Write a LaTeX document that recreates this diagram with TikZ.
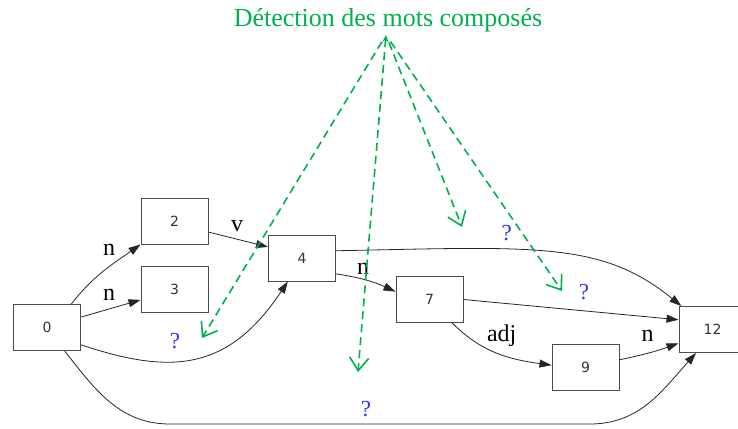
\documentclass[tikz,border=0pt]{standalone}
\usepackage{fontspec}
\setmainfont{Liberation Serif}
\newfontfamily\etatfont{DejaVu Sans}
\usetikzlibrary{arrows.meta,positioning}
\definecolor{vertcomp}{RGB}{0,176,80}
\definecolor{bleuq}{RGB}{51,51,255}

\begin{document}
\begin{tikzpicture}[
    x=1pt,y=1pt,
    etat/.style={draw=black!70,line width=1pt,minimum width=67pt,minimum height=46pt,
                 inner sep=0pt,text=black!80,font=\etatfont\fontsize{14}{14}\selectfont},
    arc/.style={draw=black!85,line width=0.8pt,-{Triangle[length=12pt,width=8pt]}},
    etiq/.style={inner sep=0pt,anchor=base,font=\fontsize{24}{24}\selectfont},
    inconnu/.style={inner sep=0pt,anchor=base,text=bleuq,font=\fontsize{23}{23}\selectfont},
    renvoi/.style={draw=vertcomp,line width=1.6pt,dash pattern=on 8pt off 5pt,
                   -{Straight Barb[length=13pt,width=19pt]}}]

  \useasboundingbox (0,0) rectangle (738,-428);

  % ---- etats -----------------------------------------------------------
  \node[etat] (n0)  at ( 47.0,-327.5) {0};
  \node[etat] (n2)  at (174.5,-221.0) {2};
  \node[etat] (n3)  at (174.5,-289.5) {3};
  \node[etat] (n4)  at (302.0,-258.0) {4};
  \node[etat] (n7)  at (429.5,-299.5) {7};
  \node[etat] (n9)  at (585.5,-367.0) {9};
  \node[etat] (n12) at (712.5,-329.5) {12};   % coupe par le bord droit

  % ---- transitions -----------------------------------------------------
  \draw[arc] (n0.44) to[out=52,in=215] (n2.south west);
  \draw[arc] (n0.17) -- (n3.197);
  \draw[arc] (n2.-18) -- (n4.162);
  \draw[arc] (n0.-27) .. controls +(90,-30) and +(-60,-90) .. (n4.239);
  \draw[arc] (n0.-53) to[out=-52,in=180] (170,-424) -- (590,-424)
                      to[out=0,in=228] (n12.235);
  \draw[arc] (n4.12) .. controls +(200,4) and +(-80,65) .. (n12.143);
  \draw[arc] (n4.-25) to[bend left=8] (n7.167);
  \draw[arc] (n7.east) -- (n12.164);
  \draw[arc] (n7.-46) to[out=-45,in=172] (n9.177);
  \draw[arc] (n9.12) to[bend right=4] (n12.202);

  % ---- etiquettes des transitions --------------------------------------
  \node[etiq] (l02)  at (109.0,-255.7) {n};
  \node[etiq] (l03)  at (109.0,-300.7) {n};
  \node[etiq] (l24)  at (237.0,-231.7) {v};
  \node[etiq] (l47)  at (363.0,-274.0) {n};
  \node[etiq] (l79)  at (501.7,-341.7) {adj};
  \node[etiq] (l912) at (647.5,-341.7) {n};

  % ---- mots composes non detectes --------------------------------------
  \node[inconnu] (q1) at (175.0,-348.0) {?};
  \node[inconnu] (q2) at (366.0,-416.7) {?};
  \node[inconnu] (q3) at (506.7,-240.0) {?};
  \node[inconnu] (q4) at (584.0,-299.0) {?};

  % ---- titre et renvois ------------------------------------------------
  \node[inner sep=0pt,anchor=base,text=vertcomp,font=\fontsize{26}{26}\selectfont]
    (titre) at (388,-27) {Détection des mots composés};
  \coordinate (src) at (386,-35);

  \coordinate (c1) at (202,-338);
  \coordinate (c2) at (358,-372);
  \coordinate (c3) at (462,-227);
  \coordinate (c4) at (562,-291);

  \draw[renvoi,shorten <=8pt] (src) -- (c1);
  \draw[renvoi,{Stealth[length=7pt,width=6pt]}-{Straight Barb[length=13pt,width=19pt]}]
    (src) -- (c2);
  \draw[renvoi,shorten <=8pt] (src) -- (c3);
  \draw[renvoi,shorten <=8pt] (src) -- (c4);

\end{tikzpicture}
\end{document}
